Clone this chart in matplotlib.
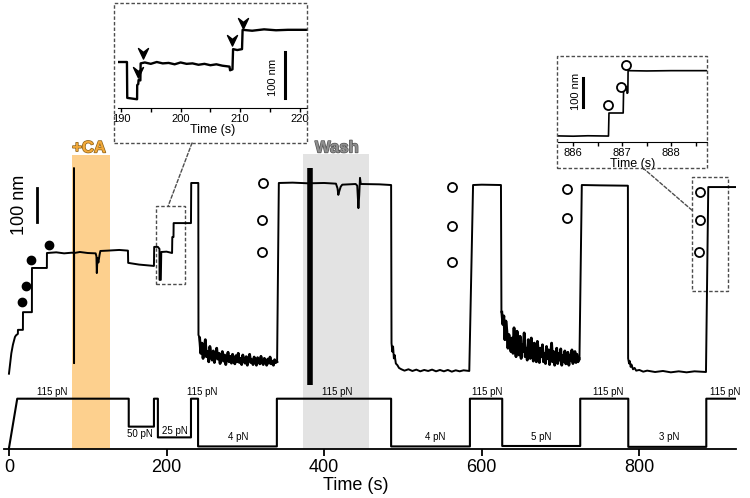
import numpy as np
import matplotlib
matplotlib.use('Agg')
import matplotlib.pyplot as plt
import matplotlib.patheffects as pe
from matplotlib.path import Path
from matplotlib.patches import Rectangle, ConnectionPatch

plt.rcParams['font.family'] = ['Liberation Sans', 'DejaVu Sans']

# force protocol (s, pN)
force_t = [0, 10.5, 152, 152, 184, 184, 189, 189, 231, 231, 240, 240, 340, 340,
           485, 485, 585, 585, 626, 626, 725, 725, 786, 786, 885, 885, 923]
force_pn = [0, 115, 115, 50, 50, 115, 115, 25, 25, 115, 115, 4, 4, 115,
            115, 4, 4, 115, 115, 5, 5, 115, 115, 3, 3, 115, 115]
force_labels = ['115 pN', '50 pN', '25 pN', '115 pN', '4 pN', '115 pN', '4 pN',
                '115 pN', '5 pN', '115 pN', '3 pN', '115 pN']
force_label_t = [55, 166, 211, 245, 291, 416, 541, 607, 675, 760, 838, 909]
force_label_pn = [131, 33, 40, 131, 26, 131, 26, 131, 26, 131, 26, 131]

# extension trace (s, nm)
seg1_t = [0, 1.5, 3, 5, 7.6, 9, 11.3, 11.4, 17.7, 17.8, 29.1, 29.2, 48.1, 48.2, 60, 70, 80,
          82.4, 82.5, 82.6, 82.7, 90, 100, 110, 111, 111.5, 112.3, 113.5, 115, 116, 125, 140,
          151, 151.3, 165, 184, 184.3, 189, 191, 191.1, 192.7, 193.3, 200, 207, 207.3, 208.8,
          209, 231, 231.3, 240.3, 240.5]
seg1_nm = [-5, 25, 55, 80, 103, 108, 112, 124, 124, 176, 176, 306, 306, 350, 352, 349, 351,
           350, 600, 26, 350, 353, 350, 349, 340, 291, 335, 322, 345, 356, 357, 359,
           357, 321, 316, 312, 368, 368, 362, 271, 271, 353, 354, 350, 397, 397,
           438, 438, 556, 556, 109]
# noisy stretch at 4 pN, 242-340 s (evenly spaced)
noise_a_nm = [100, 55, 85, 40, 70, 95, 45, 60, 30, 75, 50, 35, 62, 28, 48, 70, 38, 55, 25, 45,
              60, 32, 50, 22, 40, 58, 30, 46, 26, 52, 35, 24, 48, 30, 55, 28, 40, 22, 50, 34,
              26, 45, 20, 38, 52, 28, 36, 22, 44, 30, 20, 42, 33, 24, 46, 28, 22, 40, 30, 20,
              38, 26, 44, 24, 32, 20, 36, 28, 30]
seg2_t = [340.3, 342.5, 360, 380, 400, 415, 417, 418, 419, 421, 423, 440, 442, 443.5, 444.5,
          445.5, 446.5, 470, 485, 485.5, 486.5, 487.5, 488.5, 489.5, 491, 493, 495, 498, 502,
          507, 512, 517, 522, 527, 532, 537, 542, 547, 552, 557, 562, 567, 572, 577, 584.2,
          589, 600, 624.4, 625]
seg2_nm = [30, 556, 557, 555, 556, 554, 540, 521, 530, 545, 551, 553, 548, 482, 520,
           571, 553, 552, 550, 85, 60, 75, 40, 50, 25, 20, 12, 8, 4,
           8, 3, 7, 2, 6, 3, 7, 2, 6, 2, 6, 1, 5, 2, 5, 3,
           550, 551, 550, 176]
# noisy stretch at 5 pN, 625.5-723.5 s (evenly spaced)
noise_c_nm = [176, 140, 165, 95, 150, 120, 70, 110, 85, 60, 100, 55, 130, 75, 45, 120, 90, 50,
              105, 40, 80, 60, 115, 45, 70, 35, 95, 55, 40, 100, 65, 32, 85, 50, 30, 90, 60, 28,
              70, 45, 80, 30, 55, 25, 75, 40, 65, 22, 50, 85, 30, 60, 20, 45, 70, 25, 55, 35,
              68, 20, 48, 30, 62, 24, 40, 58, 20, 50, 35, 65, 25, 45, 60, 28, 52, 30, 40]
seg3_t = [724, 727, 750, 785.5, 785.8, 787, 788, 789, 790, 792, 794, 796, 800, 805, 810, 820,
          830, 840, 850, 860, 870, 884.6, 887.5, 923]
seg3_nm = [35, 550, 549, 548, 40, 25, 32, 15, 22, 8, 12, 4, 6, 1, 4, 0,
           3, -1, 2, -1, 2, 0, 544, 544]

fill_t = [16.5, 21.6, 27.9, 50.8]
fill_nm = [206, 253, 329, 374]
open_t = [322, 321, 321, 562, 562, 562, 708, 708, 877, 877, 876]
open_nm = [556, 447, 353, 544, 429, 324, 538, 453, 529, 447, 353]

# inset 1 (190-220 s)
in1_t = [189.5, 191.0, 191.05, 192.7, 192.72, 192.9, 192.95, 193.25, 193.3, 194, 195, 196, 197,
         198, 199, 200, 201, 202, 203, 204, 205, 206, 207, 208.2, 208.3, 208.7, 208.8, 209.5,
         210.3, 210.4, 212, 214, 216, 218, 221.2]
in1_nm = [100, 100, 22, 19, 50, 52, 61, 60, 97, 99, 96, 100, 97, 98, 95, 99, 96, 97, 94,
          96, 93, 95, 92, 90, 82, 84, 128, 126, 128, 170, 168, 171, 169, 170, 170]
chev_t = [192.85, 193.7, 208.6, 210.4]
chev_nm = [78, 120, 148, 185]

# inset 2 (886-888 s)
in2_t = [885.69, 886.0, 886.3, 886.72, 886.73, 887.02, 887.03, 887.09, 887.10, 887.115,
         887.12, 887.5, 888.0, 888.73]
in2_nm = [21, 20, 21.5, 20.5, 100, 100, 196, 190, 168, 170, 246, 245, 246, 246]
in2_circ_t = [886.70, 886.97, 887.07]
in2_circ_nm = [128, 190, 265]

W, H = 750, 498
fig = plt.figure(figsize=(7.5, 4.98), dpi=100)


def fp(x, y):
    return (x / W, 1 - y / H)


ax = fig.add_axes([4 / W, 1 - 449 / H, 732 / W, 299 / H])
ax.set_xlim(-6.3, 922.7)
ax.set_ylim(-226.5, 653)
for s in ['top', 'left', 'right']:
    ax.spines[s].set_visible(False)
ax.spines['bottom'].set_linewidth(1.3)
ax.set_yticks([])
ax.set_xticks([0, 200, 400, 600, 800])
ax.tick_params(axis='x', length=5, width=1.3, labelsize=13, pad=2)
ax.set_xlabel('Time (s)', fontsize=13, labelpad=1)
ax.xaxis.set_label_coords(0.481, -0.095)

ax.axvspan(80, 128.2, ymin=0, ymax=0.983, color='#FDD08E', lw=0, zorder=0)
ax.axvspan(373, 457, ymin=0, ymax=0.987, color='#E3E3E3', lw=0, zorder=0)
ax.text(101.5, 659, '+CA', fontsize=12, fontweight='bold', color='#F2A93A', ha='center',
        va='center', path_effects=[pe.withStroke(linewidth=1.0, foreground='#8a6018')])
ax.text(416, 659, 'Wash', fontsize=12, fontweight='bold', color='#8e8e8e', ha='center',
        va='center', path_effects=[pe.withStroke(linewidth=1.0, foreground='#555555')])

noise_a_t = np.linspace(242, 340, len(noise_a_nm))
noise_c_t = np.linspace(625.5, 723.5, len(noise_c_nm))
trace_t = np.concatenate([seg1_t, noise_a_t, seg2_t, noise_c_t, seg3_t])
trace_nm = np.concatenate([seg1_nm, noise_a_nm, seg2_nm, noise_c_nm, seg3_nm])
ax.plot(trace_t, trace_nm, color='k', lw=1.4)
# noisy parts drawn a little heavier
ax.plot(noise_a_t, noise_a_nm, color='k', lw=2.0)
ax.plot(noise_c_t, noise_c_nm, color='k', lw=2.0)
ax.plot([382, 382], [-38, 600], color='k', lw=4, solid_capstyle='butt')
ax.plot(fill_t, fill_nm, 'o', color='k', ms=6)
ax.plot(open_t, open_nm, 'o', mfc='white', mec='k', ms=6.5, mew=1.3)

# scale bar
ax.plot([35.5, 35.5], [441, 541], color='k', lw=2)
ax.text(14, 491, '100 nm', rotation=90, fontsize=13, ha='center', va='center')

box_kw = dict(fill=False, ls=(0, (2.5, 1.5)), lw=1, ec='0.3')
ax.add_patch(Rectangle((186.6, 259), 36.8, 229, **box_kw))
ax.add_patch(Rectangle((866.8, 238), 45.7, 336, **box_kw))

axf = ax.twinx()
axf.set_ylim(-2, 693.3)
axf.axis('off')
axf.plot(force_t, force_pn, color='k', lw=1.5)
for lab, t, f in zip(force_labels, force_label_t, force_label_pn):
    axf.text(t, f, lab, fontsize=7, ha='center', va='center')

# inset 1
ins1 = fig.add_axes([118 / W, 1 - 108 / H, 189 / W, 93 / H])
ins1.set_facecolor('none')
ins1.set_xlim(189.5, 221.2)
ins1.set_ylim(0, 202.2)
for s in ['top', 'left', 'right']:
    ins1.spines[s].set_visible(False)
ins1.set_yticks([])
ins1.set_xticks([190, 200, 210, 220])
ins1.set_xticks([195, 205, 215], minor=True)
ins1.tick_params(axis='x', which='both', length=3, width=1, labelsize=8, pad=1)
ins1.set_xlabel('Time (s)', fontsize=9, labelpad=0)
ins1.plot(in1_t, in1_nm, color='k', lw=1.7)
chev = Path([(0, -1), (-0.9, 0.9), (0, 0.2), (0.9, 0.9), (0, -1)],
            [Path.MOVETO, Path.LINETO, Path.LINETO, Path.LINETO, Path.CLOSEPOLY])
ins1.plot(chev_t, chev_nm, ls='none', marker=chev, color='k', ms=8)
ins1.plot([217.47, 217.47], [21.7, 121.7], color='k', lw=2.2)
ins1.text(215.5, 66, '100 nm', rotation=90, fontsize=8, ha='center', va='center')

# inset 2
ins2 = fig.add_axes([558 / W, 1 - 142 / H, 149 / W, 87 / H])
ins2.set_facecolor('none')
ins2.set_xlim(885.69, 888.73)
ins2.set_ylim(0, 300)
for s in ['top', 'left', 'right']:
    ins2.spines[s].set_visible(False)
ins2.set_yticks([])
ins2.set_xticks([886, 887, 888])
ins2.set_xticks([886.5, 887.5, 888.5], minor=True)
ins2.tick_params(axis='x', which='both', length=3, width=1, labelsize=8, pad=1)
ins2.set_xlabel('Time (s)', fontsize=9, labelpad=0)
ins2.plot(in2_t, in2_nm, color='k', lw=1.2)
ins2.plot(in2_circ_t, in2_circ_nm, 'o', mfc='white', mec='k', ms=6.5, mew=1.3)
ins2.plot([886.2, 886.2], [120.7, 220.7], color='k', lw=2.2)
ins2.text(886.06, 175, '100 nm', rotation=90, fontsize=8, ha='center', va='center')

# dashed frames around the insets and connectors
for (x0, y0, x1, y1) in [(114, 3, 307, 143), (557, 56, 707, 168)]:
    fig.add_artist(Rectangle(fp(x0, y1), (x1 - x0) / W, (y1 - y0) / H,
                             transform=fig.transFigure, **box_kw))
fig.add_artist(ConnectionPatch(fp(192, 143), (202, 488), 'figure fraction', ax.transData,
                               ls=(0, (2.5, 1.5)), lw=1, color='0.3'))
fig.add_artist(ConnectionPatch(fp(643, 168), (866.8, 476), 'figure fraction', ax.transData,
                               ls=(0, (2.5, 1.5)), lw=1, color='0.3'))

fig.savefig('out.png', dpi=100)
